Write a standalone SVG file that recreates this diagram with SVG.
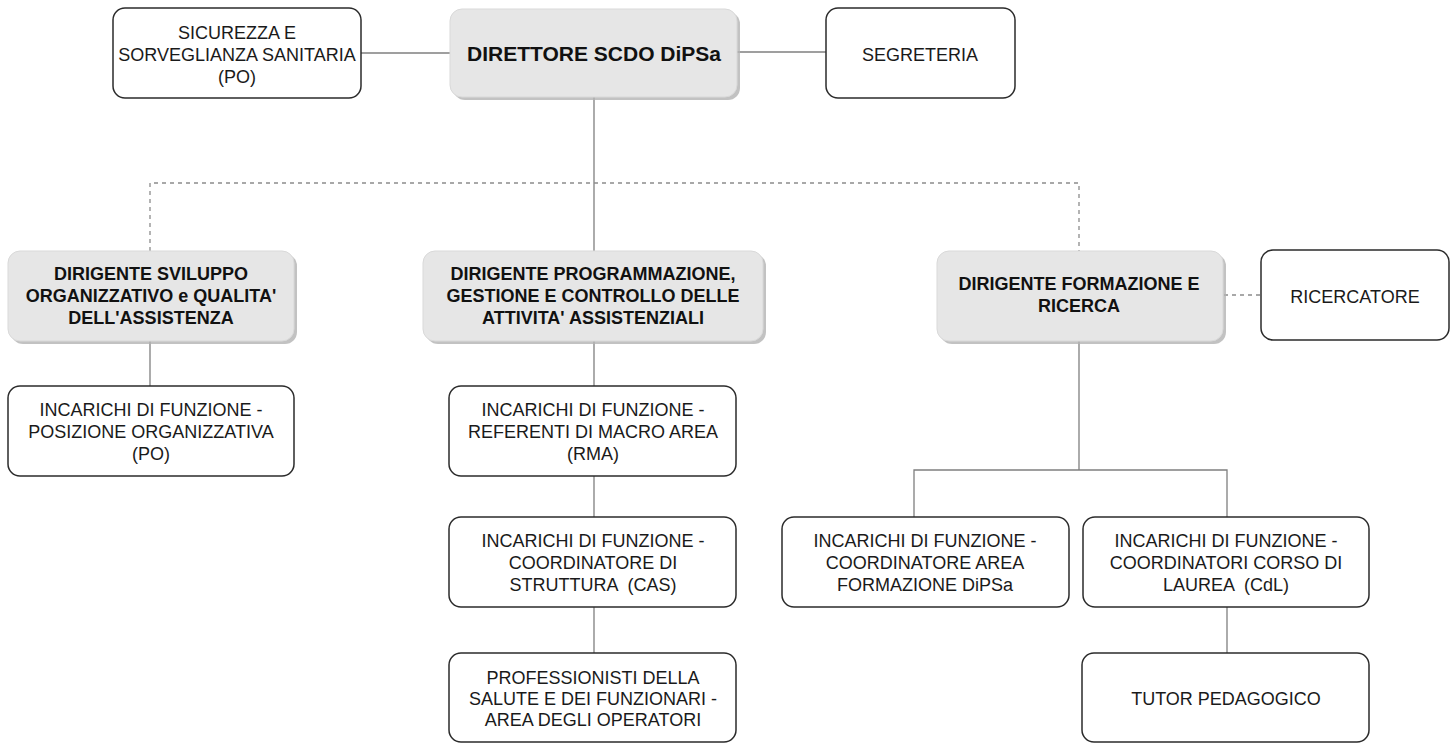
<svg xmlns="http://www.w3.org/2000/svg" width="1456" height="743" viewBox="0 0 1456 743">
<style>
.box{fill:#ffffff;stroke:#2b2b2b;stroke-width:1.5}
.gbox{fill:#e6e6e6;stroke:#d9d9d9;stroke-width:1}
.shadow{fill:#b3b3b3;opacity:0.8}
.t{font-family:"Liberation Sans",Arial,sans-serif;font-size:18px;fill:#1a1a1a;text-anchor:middle;white-space:pre}
.b{font-family:"Liberation Sans",Arial,sans-serif;font-size:18px;font-weight:bold;fill:#111;text-anchor:middle}
.big{font-size:21px}
.ln{fill:none;stroke:#7f7f7f;stroke-width:1.3}
.dash{fill:none;stroke:#8c8c8c;stroke-width:1.3;stroke-dasharray:4 4}
</style>
<rect width="1456" height="743" fill="#ffffff"/>
<g id="connectors">
<line class="ln" x1="361" y1="53" x2="450" y2="53"/>
<line class="ln" x1="737" y1="52" x2="826" y2="52"/>
<line class="ln" x1="594" y1="97" x2="594" y2="251"/>
<polyline class="dash" points="150,251 150,183 1079,183 1079,251"/>
<line class="dash" x1="1224" y1="295" x2="1261" y2="295"/>
<line class="ln" x1="150" y1="341" x2="150" y2="386"/>
<line class="ln" x1="594" y1="341" x2="594" y2="386"/>
<line class="ln" x1="594" y1="476" x2="594" y2="517"/>
<line class="ln" x1="594" y1="607" x2="594" y2="653"/>
<line class="ln" x1="1079" y1="341" x2="1079" y2="470"/>
<polyline class="ln" points="914,517 914,470 1227,470 1227,517"/>
<line class="ln" x1="1227" y1="607" x2="1227" y2="653"/>
</g>
<g id="sicurezza">
<rect class="box" x="113" y="8" width="248" height="90" rx="12"/>
<text class="t" x="237" y="39">SICUREZZA E</text>
<text class="t" x="237" y="61">SORVEGLIANZA SANITARIA</text>
<text class="t" x="237" y="83">(PO)</text>
</g>
<g id="direttore">
<rect class="shadow" x="453" y="12" width="287" height="88" rx="12"/>
<rect class="gbox" x="450" y="9" width="287" height="88" rx="12"/>
<text class="b big" x="594" y="61">DIRETTORE SCDO DiPSa</text>
</g>
<g id="segreteria">
<rect class="box" x="826" y="8" width="189" height="90" rx="12"/>
<text class="t" x="920" y="61">SEGRETERIA</text>
</g>
<g id="dir-sviluppo">
<rect class="shadow" x="11" y="254" width="286" height="90" rx="12"/>
<rect class="gbox" x="8" y="251" width="286" height="90" rx="12"/>
<text class="b" x="151" y="280">DIRIGENTE SVILUPPO</text>
<text class="b" x="151" y="302">ORGANIZZATIVO e QUALITA'</text>
<text class="b" x="151" y="324">DELL'ASSISTENZA</text>
</g>
<g id="dir-programmazione">
<rect class="shadow" x="426" y="254" width="340" height="90" rx="12"/>
<rect class="gbox" x="423" y="251" width="340" height="90" rx="12"/>
<text class="b" x="593" y="280">DIRIGENTE PROGRAMMAZIONE,</text>
<text class="b" x="593" y="302">GESTIONE E CONTROLLO DELLE</text>
<text class="b" x="593" y="324">ATTIVITA' ASSISTENZIALI</text>
</g>
<g id="dir-formazione">
<rect class="shadow" x="940" y="254" width="286" height="90" rx="12"/>
<rect class="gbox" x="937" y="251" width="286" height="90" rx="12"/>
<text class="b" x="1079" y="290">DIRIGENTE FORMAZIONE E</text>
<text class="b" x="1079" y="312">RICERCA</text>
</g>
<g id="ricercatore">
<rect class="box" x="1261" y="250" width="188" height="90" rx="12"/>
<text class="t" x="1355" y="303">RICERCATORE</text>
</g>
<g id="inc-po">
<rect class="box" x="8" y="386" width="286" height="90" rx="12"/>
<text class="t" x="151" y="416">INCARICHI DI FUNZIONE -</text>
<text class="t" x="151" y="438">POSIZIONE ORGANIZZATIVA</text>
<text class="t" x="151" y="460">(PO)</text>
</g>
<g id="inc-rma">
<rect class="box" x="449" y="386" width="287" height="90" rx="12"/>
<text class="t" x="593" y="416">INCARICHI DI FUNZIONE -</text>
<text class="t" x="593" y="438">REFERENTI DI MACRO AREA</text>
<text class="t" x="593" y="460">(RMA)</text>
</g>
<g id="inc-cas">
<rect class="box" x="449" y="517" width="287" height="90" rx="12"/>
<text class="t" x="593" y="547">INCARICHI DI FUNZIONE -</text>
<text class="t" x="593" y="569">COORDINATORE DI</text>
<text class="t" x="593" y="591">STRUTTURA  (CAS)</text>
</g>
<g id="professionisti">
<rect class="box" x="449" y="653" width="287" height="89" rx="12"/>
<text class="t" x="593" y="684">PROFESSIONISTI DELLA</text>
<text class="t" x="593" y="705">SALUTE E DEI FUNZIONARI -</text>
<text class="t" x="593" y="726">AREA DEGLI OPERATORI</text>
</g>
<g id="inc-formazione">
<rect class="box" x="782" y="517" width="287" height="90" rx="12"/>
<text class="t" x="925" y="547">INCARICHI DI FUNZIONE -</text>
<text class="t" x="925" y="569">COORDINATORE AREA</text>
<text class="t" x="925" y="591">FORMAZIONE DiPSa</text>
</g>
<g id="inc-cdl">
<rect class="box" x="1083" y="517" width="286" height="90" rx="12"/>
<text class="t" x="1226" y="547">INCARICHI DI FUNZIONE -</text>
<text class="t" x="1226" y="569">COORDINATORI CORSO DI</text>
<text class="t" x="1226" y="591">LAUREA  (CdL)</text>
</g>
<g id="tutor">
<rect class="box" x="1082" y="653" width="287" height="89" rx="12"/>
<text class="t" x="1226" y="705">TUTOR PEDAGOGICO</text>
</g>
</svg>
